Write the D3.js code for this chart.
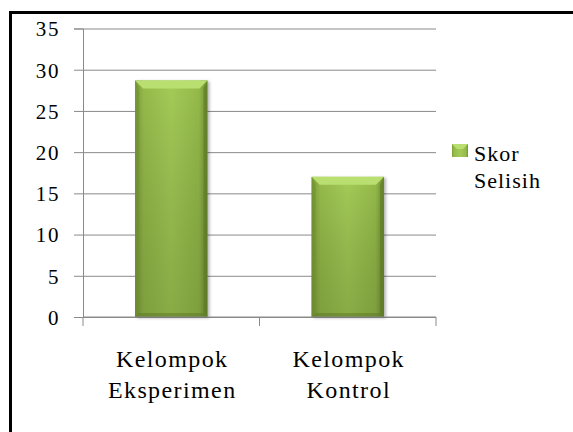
<!DOCTYPE html>
<html>
<head>
<meta charset="utf-8">
<script src="https://cdn.jsdelivr.net/npm/d3@7"></script>
<style>
  body { margin: 0; background: #fff; }
  svg { display: block; }
  svg text { font-family: "Liberation Serif", "DejaVu Serif", "Times New Roman", Times, serif; fill: #000; }
</style>
</head>
<body>
<script>
  // data
  var categories = ['Kelompok Eksperimen', 'Kelompok Kontrol'];
  var skorSelisih = [28.7, 17];
  var yTicks = [0, 5, 10, 15, 20, 25, 30, 35];
  var seriesName = ['Skor', 'Selisih'];

  var serif = '"Liberation Serif", "DejaVu Serif", "Times New Roman", Times, serif';
  var W = 573, H = 432;
  var plot = {left: 83, right: 436, top: 28.5, bottom: 317};

  var svg = d3.select('body').append('svg')
    .attr('width', W)
    .attr('height', H);

  var defs = svg.append('defs');

  // horizontal shading of the bars
  var gH = defs.append('linearGradient').attr('id', 'barH')
    .attr('x1', 0).attr('x2', 1).attr('y1', 0).attr('y2', 0);
  gH.append('stop').attr('offset', '0%').attr('stop-color', '#7c9b38');
  gH.append('stop').attr('offset', '12%').attr('stop-color', '#95bb4b');
  gH.append('stop').attr('offset', '50%').attr('stop-color', '#a4cb57');
  gH.append('stop').attr('offset', '88%').attr('stop-color', '#95bb4b');
  gH.append('stop').attr('offset', '100%').attr('stop-color', '#718f31');

  // darker towards the bottom
  var gV = defs.append('linearGradient').attr('id', 'barV')
    .attr('x1', 0).attr('x2', 0).attr('y1', 0).attr('y2', 1);
  gV.append('stop').attr('offset', '0%').attr('stop-color', '#000').attr('stop-opacity', 0);
  gV.append('stop').attr('offset', '100%').attr('stop-color', '#2c3d0a').attr('stop-opacity', 0.22);

  var shadow = defs.append('filter').attr('id', 'shadow')
    .attr('x', '-10%').attr('y', '-5%').attr('width', '130%').attr('height', '115%');
  shadow.append('feDropShadow')
    .attr('dx', 2).attr('dy', 1).attr('stdDeviation', 1.5)
    .attr('flood-color', '#000').attr('flood-opacity', 0.3);

  var y = d3.scaleLinear()
    .domain([0, 35])
    .range([plot.bottom, plot.top]);

  var x = d3.scaleBand()
    .domain(categories)
    .range([plot.left, plot.right])
    .paddingInner(0.59)
    .paddingOuter(0.295);

  // gridlines
  svg.append('g')
    .attr('transform', 'translate(' + plot.left + ',0)')
    .call(d3.axisLeft(y).tickValues(yTicks).tickSize(-(plot.right - plot.left)).tickFormat(''))
    .call(function(g){
      g.select('.domain').remove();
      g.selectAll('line').attr('stroke', '#8a8a8a');
    });

  // y axis with outward ticks and labels
  svg.append('g')
    .attr('transform', 'translate(' + plot.left + ',0)')
    .call(d3.axisLeft(y).tickValues(yTicks).tickSize(9).tickPadding(14))
    .attr('font-family', serif)
    .attr('font-size', 21)
    .call(function(g){
      g.select('.domain').attr('stroke', '#8a8a8a');
      g.selectAll('line').attr('stroke', '#8a8a8a');
      g.selectAll('text')
        .attr('font-family', serif)
        .style('letter-spacing', '1.6px')
        .attr('dy', '0.35em');
    });

  // bars
  var bars = svg.append('g').selectAll('g.bar')
    .data(categories.map(function(c, i){ return {cat: c, value: skorSelisih[i]}; }))
    .enter().append('g')
    .attr('class', 'bar');

  bars.each(function(d){
    var g = d3.select(this);
    var x0 = x(d.cat), w = x.bandwidth();
    var y0 = y(d.value), h = y(0) - y0;
    var b = 8, s = 4;

    g.append('rect')
      .attr('x', x0).attr('y', y0).attr('width', w).attr('height', h)
      .attr('fill', 'url(#barH)')
      .attr('filter', 'url(#shadow)');
    g.append('rect')
      .attr('x', x0).attr('y', y0).attr('width', w).attr('height', h)
      .attr('fill', 'url(#barV)');
    // top bevel
    g.append('path')
      .attr('d', 'M' + x0 + ',' + y0 + 'H' + (x0 + w) + 'L' + (x0 + w - b) + ',' + (y0 + b) +
        'H' + (x0 + b) + 'Z')
      .attr('fill', '#b9df70');
    // left/right bevel
    g.append('path')
      .attr('d', 'M' + x0 + ',' + y0 + 'L' + (x0 + s) + ',' + (y0 + b) + 'V' + (y0 + h - s) +
        'L' + x0 + ',' + (y0 + h) + 'Z')
      .attr('fill', '#6e8c2f').attr('opacity', 0.5);
    g.append('path')
      .attr('d', 'M' + (x0 + w) + ',' + y0 + 'L' + (x0 + w - s) + ',' + (y0 + b) + 'V' + (y0 + h - s) +
        'L' + (x0 + w) + ',' + (y0 + h) + 'Z')
      .attr('fill', '#5b7624').attr('opacity', 0.55);
    // bottom bevel
    g.append('path')
      .attr('d', 'M' + x0 + ',' + (y0 + h) + 'H' + (x0 + w) + 'L' + (x0 + w - s) + ',' + (y0 + h - s) +
        'H' + (x0 + s) + 'Z')
      .attr('fill', '#5f7b26').attr('opacity', 0.55);
  });

  // category axis: baseline and ticks between groups
  var xAxis = svg.append('g');
  xAxis.append('line')
    .attr('x1', plot.left).attr('x2', plot.right)
    .attr('y1', y(0)).attr('y2', y(0))
    .attr('stroke', '#8a8a8a');
  xAxis.selectAll('line.tick')
    .data(d3.range(categories.length + 1))
    .enter().append('line')
    .attr('class', 'tick')
    .attr('x1', function(i){ return plot.left + i * x.step(); })
    .attr('x2', function(i){ return plot.left + i * x.step(); })
    .attr('y1', y(0)).attr('y2', y(0) + 9)
    .attr('stroke', '#8a8a8a');

  // category labels, two lines each
  var labels = svg.append('g').selectAll('text.cat')
    .data(categories)
    .enter().append('text')
    .attr('class', 'cat')
    .attr('text-anchor', 'middle')
    .attr('font-family', serif)
    .attr('font-size', 24)
    .style('letter-spacing', '1.4px');
  labels.each(function(d){
    var t = d3.select(this);
    d.split(' ').forEach(function(word, i){
      t.append('tspan')
        .attr('x', x(d) + x.bandwidth() / 2 + 1)
        .attr('y', 367 + i * 31)
        .text(word);
    });
  });

  // legend
  var legend = svg.append('g');
  legend.append('rect')
    .attr('x', 452).attr('y', 144).attr('width', 16).attr('height', 13)
    .attr('fill', 'url(#barH)');
  legend.append('path')
    .attr('d', 'M452,144H468L463,149H457Z')
    .attr('fill', '#b9df70');
  var lt = legend.append('text')
    .attr('font-family', serif)
    .attr('font-size', 22)
    .style('letter-spacing', '1px');
  seriesName.forEach(function(word, i){
    lt.append('tspan').attr('x', 474).attr('y', 160.5 + i * 27.6).text(word);
  });

  // frame (only top and left edges visible in the crop)
  svg.append('rect')
    .attr('x', 10.5).attr('y', 12.5)
    .attr('width', W + 20).attr('height', H + 20)
    .attr('fill', 'none')
    .attr('stroke', '#000')
    .attr('stroke-width', 3);
</script>
</body>
</html>
